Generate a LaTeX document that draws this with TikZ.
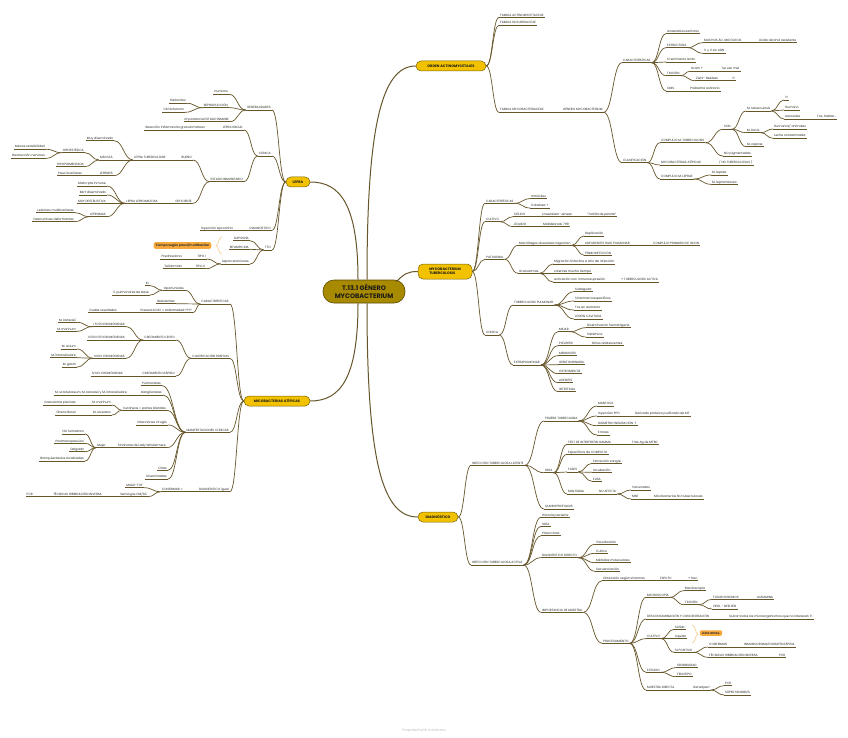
\documentclass[tikz,border=0pt]{standalone}
\usepackage{fontspec}
\setmainfont{Poppins}
\newfontfamily\dejavu{DejaVu Sans}
\usetikzlibrary{calc}
\definecolor{ln}{HTML}{66562A}
\definecolor{txt}{HTML}{262626}
\definecolor{pillf}{HTML}{F2C200}
\definecolor{pilld}{HTML}{7A6400}
\definecolor{mainf}{HTML}{A88A00}
\definecolor{maind}{HTML}{5A4A00}
\definecolor{orf}{HTML}{F7A83A}
\definecolor{orl}{HTML}{F9C98A}
\newcommand\NR[4]{\node[t,anchor=south west] (#1) at (#2,#3) {#4}; \draw[ul] (#1.south west) -- (#1.south east);}
\newcommand\NL[4]{\node[t,anchor=south east] (#1) at (#2,#3) {#4}; \draw[ul] (#1.south west) -- (#1.south east);}
\newcommand\CR[2]{\draw[con] let \p1=(#1.south east), \p2=(#2.south west), \n1={max(0.5*abs(\x2-\x1),1)} in (\p1) .. controls +(\n1,0) and +(-\n1,0) .. (\p2);}
\newcommand\CL[2]{\draw[con] let \p1=(#1.south west), \p2=(#2.south east), \n1={max(0.5*abs(\x2-\x1),1)} in (\p1) .. controls +(-\n1,0) and +(\n1,0) .. (\p2);}
\newcommand\PR[2]{\draw[con] let \p1=(#1.east), \p2=(#2.south west), \n1={max(0.5*abs(\x2-\x1),1)} in (\p1) .. controls +(\n1,0) and +(-\n1,0) .. (\p2);}
\newcommand\PL[2]{\draw[con] let \p1=(#1.west), \p2=(#2.south east), \n1={max(0.5*abs(\x2-\x1),1)} in (\p1) .. controls +(-\n1,0) and +(\n1,0) .. (\p2);}
\newcommand\CRs[2]{\foreach \cc in {#2}{\CR{#1}{\cc}}}
\newcommand\CLs[2]{\foreach \cc in {#2}{\CL{#1}{\cc}}}
\newcommand\PRs[2]{\foreach \cc in {#2}{\PR{#1}{\cc}}}
\newcommand\PLs[2]{\foreach \cc in {#2}{\PL{#1}{\cc}}}
\begin{document}
\begin{tikzpicture}[x=1pt,y=-1pt,
  t/.style={font=\fontsize{3.1}{3.6}\selectfont, text=txt, inner xsep=1pt, inner ysep=0.5pt, text height=2.3pt, text depth=0.6pt},
  ul/.style={draw=ln, line width=0.55pt},
  con/.style={draw=ln, line width=0.7pt},
  mcon/.style={draw=ln, line width=1pt},
  l1/.style={draw=pilld, fill=pillf, line width=0.5pt, rounded corners=5pt, font=\fontsize{3.5}{4.2}\selectfont\bfseries, text=black!90, inner sep=0pt, minimum height=10pt, align=left},
  mainn/.style={draw=maind, fill=mainf, line width=0.6pt, rounded corners=11pt, font=\fontsize{6.5}{7.7}\selectfont\bfseries, text=black!90, inner sep=0pt, minimum width=82pt, minimum height=23pt, align=center},
  note/.style={fill=orf, rounded corners=2pt, font=\fontsize{3.1}{3.6}\selectfont\bfseries, text=black!80, inner xsep=2pt, inner ysep=1.5pt},
  brk/.style={draw=orl, line width=0.6pt}
]
\useasboundingbox (0,0) rectangle (848,738);
\fill[white] (0,0) rectangle (848,738);

% ---------- central and main nodes
\node[mainn] (ctr) at (364,291.5) {T.13.1 GÉNERO\\MYCOBACTERIUM};
\node[l1, minimum width=24pt] (lep) at (298,182) {LEPRA};
\node[l1, minimum width=70pt] (ord) at (451,66) {ORDEN ACTINOMYCETALES};
\node[l1, minimum width=54pt, minimum height=15pt] (mtbp) at (445,271.5) {MYCOBACTERIUM\\TUBERCULOSIS};
\node[l1, minimum width=66pt] (mico) at (277,401) {MICOBACTERIAS ATÍPICAS};
\node[l1, minimum width=40pt] (dia) at (438,517) {DIAGNÓSTICO};

\draw[mcon] ($(ctr.north)+(-6,0)$) .. controls +(0,-75) and +(30,0) .. (lep.east);
\draw[mcon] ($(ctr.north)+(3,0)$) .. controls +(0,-150) and +(-35,0) .. (ord.west);
\draw[mcon] ($(ctr.north east)+(-9,2)$) .. controls +(8,-8) and +(-10,0) .. (mtbp.west);
\draw[mcon] ($(ctr.south)+(-6,0)$) .. controls +(0,75) and +(30,0) .. (mico.east);
\draw[mcon] ($(ctr.south)+(3,0)$) .. controls +(0,160) and +(-35,0) .. (dia.west);

% ---------- ORDEN ACTINOMYCETALES
\NR{fa}{499}{17.5}{FAMILIA ACTINOMYCETACEAE}
\NR{fn}{499}{25.3}{FAMILIA NOCARDIACEAE}
\NR{fm}{499}{112.3}{FAMILIA MYCOBACTERIACEAE}
\NR{gm}{562}{112.3}{GÉNERO MYCOBACTERIUM}
\NR{car}{622}{62.7}{CARACTERÍSTICAS}
\NR{ana}{666}{33.7}{Anaerobios estrictos}
\NR{est}{666}{47.7}{ESTRUCTURA}
\NR{muc}{703}{42.7}{MUCHOS ÁC. MICÓLICOS}
\NR{aar}{758}{42.7}{Ácido alcohol resistente}
\NR{cyc}{703}{53.3}{C y C en ADN}
\NR{crl}{666}{62}{Crecimiento lento}
\NR{tin}{666}{75.7}{TINCIÓN}
\NR{gra}{690}{71.3}{Gram +}
\NR{sev}{721}{71.3}{Se ven mal}
\NR{zn}{695}{80.7}{Ziehl- Neelsen}
\NR{exc}{731}{80.7}{!!!}
\NR{oms}{666}{91}{OMS}
\NR{pro}{689}{91}{Problema sanitario}
\NR{cla}{622}{162.7}{CLASIFICACIÓN}
\NR{cmt}{660}{142.7}{COMPLEJO M. TUBERCULOSIS}
\NR{son}{723}{129.3}{SON}
\NR{mtb}{746}{111}{M. tuberculosis}
\NR{e3}{784}{100}{!!!}
\NR{hum}{784}{110}{Humano}
\NR{aer}{784}{119}{Aerosoles}
\NR{tos}{816}{119}{Tos, hablar...}
\NR{mbo}{746}{132.7}{M. bovis}
\NR{ha}{773}{129}{Humanos/ animales}
\NR{lc}{773}{138.3}{Leche contaminada}
\NR{mca}{746}{146.7}{M. caprae}
\NR{nop}{723}{156}{NO pigmentadas}
\NR{mat}{660}{165}{MYCOBACTERIAS ATÍPICAS}
\NR{ntb}{718}{165}{/ NO TUBERCULOSAS /}
\NR{cml}{660}{179}{COMPLEJO M. LEPRAE}
\NR{mle}{711}{175}{M. leprae}
\NR{mlm}{711}{184.3}{M. lepromatosis}

\PRs{ord}{fa,fn,fm}
\CRs{fm}{gm}
\CRs{gm}{car,cla}
\CRs{car}{ana,est,crl,tin,oms}
\CRs{est}{muc,cyc}
\CRs{muc}{aar}
\CRs{tin}{gra,zn}
\CRs{gra}{sev}
\CRs{zn}{exc}
\CRs{oms}{pro}
\CRs{cla}{cmt,mat,cml}
\CRs{cmt}{son,nop}
\CRs{son}{mtb,mbo,mca}
\CRs{mtb}{e3,hum,aer}
\CRs{aer}{tos}
\CRs{mbo}{ha,lc}
\CRs{mat}{ntb}
\CRs{cml}{mle,mlm}

% ---------- MYCOBACTERIUM TUBERCULOSIS
\NR{c2}{485}{203.3}{CARACTERÍSTICAS}
\NR{inm}{530}{198.7}{Inmóviles}
\NR{cat}{530}{208}{Catalasa +}
\NR{cul}{485}{221.7}{CULTIVO}
\NR{sol}{513}{216.7}{SÓLIDO}
\NR{lj}{541}{216.7}{Lowenstein-Jensen}
\NR{tor}{586}{216.7}{"Tortilla de patata"}
\NR{liq}{513}{226.7}{LÍQUIDO}
\NR{mid}{542}{226.7}{Middlebrook 7H9}
\NR{pat}{485}{259.3}{PATOGENIA}
\NR{mac}{518}{245.3}{Macrófagos alveolares fagocitan}
\NR{rep}{584}{236}{Replicación}
\NR{lin}{584}{245.3}{LINFADENITIS HILIO PULMONAR}
\NR{ghon}{652}{245.3}{COMPLEJO PRIMARIO DE GHON}
\NR{pri}{584}{255.3}{PRIMOINFECCIÓN}
\NR{gran}{518}{273.3}{Granulomas}
\NR{mig}{553}{264}{Migración linfocitos a sitio de infección}
\NR{lat}{553}{273.3}{Latentes mucho tiempo}
\NR{act}{553}{282}{Activación con inmunosupresión}
\NR{tba}{620}{282}{+ TUBERCULOSIS ACTIVA}
\NR{cli}{485}{335}{CLÍNICA}
\NR{tbp}{513}{305}{TUBERCULOSIS PULMONAR}
\NR{sub}{574}{291.7}{Subaguda}
\NR{sin}{574}{301}{Síntomas inespecíficos}
\NR{tau}{574}{310}{Tos en aumento}
\NR{les}{574}{319}{LESIÓN CAVITADA}
\NR{ext}{513}{365}{EXTRAPULMONAR}
\NR{mil}{558}{331.7}{MILIAR}
\NR{dis}{586}{327.7}{Diseminación hematógena}
\NR{sis}{586}{337}{Sistémica}
\NR{ple}{558}{345.7}{PLEURITIS}
\NR{nin}{591}{345.7}{Niños adolescentes}
\NR{men}{558}{355.7}{MENINGITIS}
\NR{gen}{558}{364.7}{GENITOURINARIA}
\NR{ost}{558}{373.7}{OSTEOMIELITIS}
\NR{ade}{558}{382.7}{ADENITIS}
\NR{int}{558}{391.7}{INTESTINAL}

\PRs{mtbp}{c2,cul,pat,cli}
\CRs{c2}{inm,cat}
\CRs{cul}{sol,liq}
\CRs{sol}{lj}
\CRs{lj}{tor}
\CRs{liq}{mid}
\CRs{pat}{mac,gran}
\CRs{mac}{rep,lin,pri}
\CRs{lin}{ghon}
\CRs{gran}{mig,lat,act}
\CRs{act}{tba}
\CRs{cli}{tbp,ext}
\CRs{tbp}{sub,sin,tau,les}
\CRs{ext}{mil,ple,men,gen,ost,ade,int}
\CRs{mil}{dis,sis}
\CRs{ple}{nin}

% ---------- DIAGNOSTICO
\NR{itl}{471}{465.3}{INFECCIÓN TUBERCULOSA LATENTE}
\NR{ptu}{544}{421}{PRUEBA TUBERCULINA}
\NR{man}{597}{406}{MANTOUX}
\NR{ppd}{597}{416}{Inyección PPD}
\NR{der}{634}{416}{Derivado proteico purificado de MT}
\NR{dia2}{597}{425.7}{DIÁMETRO INDURACIÓN {\dejavu ↑}}
\NR{err}{597}{435}{Errores}
\NR{igra}{544}{472.7}{IGRA}
\NR{tig}{567}{444.3}{TEST DE INTERFERÓN GAMMA}
\NR{tras}{631}{444.3}{Tras Ag de MTBC}
\NR{esp}{567}{454.3}{Específicos de COMPLEJO}
\NR{fas}{567}{472}{FASES}
\NR{extr}{592}{463.3}{Extracción sangre}
\NR{inc}{592}{472.3}{Incubación}
\NR{eli}{592}{481.3}{ELISA}
\NR{mfi}{567}{494}{Más fiable}
\NR{noa}{598}{494}{NO AFECTA}
\NR{vac}{631}{490}{Vacunados}
\NR{mnt}{631}{499}{MNT}
\NR{mnt2}{653}{499}{Micobacterias NO tuberculosas}
\NR{qui}{544}{509}{QUIMIOPROFILAXIS}
\NR{ita}{471}{565}{INFECCIÓN TUBERCULOSA ACTIVA}
\NR{his}{541}{517.3}{Historia paciente}
\NR{igr2}{541}{526.3}{IGRA}
\NR{pla}{541}{535.7}{Placa tórax}
\NR{ddi}{541}{557.7}{DIAGNÓSTICO DIRECTO}
\NR{vis}{595}{544.3}{Visualización}
\NR{cu2}{595}{553.3}{Cultivo}
\NR{mmo}{595}{562.7}{Métodos moleculares}
\NR{sec}{595}{571.3}{Secuenciación}
\NR{imp}{541}{612.3}{IMPORTANCIA DE MUESTRA}
\NR{obt}{602}{580.7}{Obtención según síntomas}
\NR{esu}{659}{580.7}{ESPUTO}
\NR{frec}{687}{580.7}{+ frec}
\NR{proc}{602}{643.3}{PROCESAMIENTO}
\NR{mic}{646}{597.3}{MICROSCOPÍA}
\NR{bac}{684}{590.7}{Baciloscopia}
\NR{ti2}{684}{604.7}{TINCIÓN}
\NR{flu}{712}{599.3}{FLUOROCROMOS}
\NR{aur}{756}{599.3}{AURAMINA}
\NR{zie}{712}{609}{ZIEHL - NEELSEN}
\NR{des}{646}{619}{DESCONTAMINACIÓN Y CONCENTRACIÓN}
\NR{qui2}{728}{619}{Quitar todos los microorganismos que no interesan !!!}
\NR{cu3}{646}{638.7}{CULTIVO}
\NR{sol2}{674}{629.3}{Sólido}
\NR{liq2}{674}{638.7}{Líquido}
\NR{sip}{674}{652.3}{SI POSITIVO}
\NR{conf}{708}{647}{CONFIRMAR}
\NR{inmu}{743}{647}{INMUNOCROMATOGRAFÍA RÁPIDA}
\NR{thi}{708}{657.3}{TÉCNICAS HIBRIDACIÓN INVERSA}
\NR{pcr1}{778}{657.3}{PCR}
\NR{estu}{646}{672.3}{ESTUDIO}
\NR{sen}{676}{667.7}{SENSIBILIDAD}
\NR{fen}{676}{676.7}{FENOTIPO}
\NR{mdi}{646}{690}{MUESTRA DIRECTA}
\NR{gx}{692}{690}{GeneXpert}
\NR{pcr2}{724}{685.7}{PCR}
\NR{sup}{724}{695}{SÚPER SENSIBLES}

\PRs{dia}{itl,ita}
\CRs{itl}{ptu,igra,qui}
\CRs{ptu}{man,ppd,dia2,err}
\CRs{ppd}{der}
\CRs{igra}{tig,esp,fas,mfi}
\CRs{tig}{tras}
\CRs{fas}{extr,inc,eli}
\CRs{mfi}{noa}
\CRs{noa}{vac,mnt}
\CRs{mnt}{mnt2}
\CRs{ita}{his,igr2,pla,ddi,imp}
\CRs{ddi}{vis,cu2,mmo,sec}
\CRs{imp}{obt,proc}
\CRs{obt}{esu}
\CRs{esu}{frec}
\CRs{proc}{mic,des,cu3,estu,mdi}
\CRs{mic}{bac,ti2}
\CRs{ti2}{flu,zie}
\CRs{flu}{aur}
\CRs{des}{qui2}
\CRs{cu3}{sol2,liq2,sip}
\CRs{sip}{conf,thi}
\CRs{conf}{inmu}
\CRs{thi}{pcr1}
\CRs{estu}{sen,fen}
\CRs{mdi}{gx}
\CRs{gx}{pcr2,sup}

\draw[brk] (692,625) .. controls (696,625) and (695,634) .. (698,634) .. controls (695,634) and (696,643) .. (692,643);
\node[note] (vis2) at (711,633) {visto antes.};

% ---------- LEPRA
\NL{gnr}{272}{110}{GENERALIDADES}
\NL{hu}{229}{94.3}{Humano}
\NL{rpr}{229}{107.7}{REPRODUCCIÓN}
\NL{his2}{187}{103.3}{Histiocitos}
\NL{sch}{185}{112.3}{Cél Schwann}
\NL{imi}{230}{121.7}{Importancia ESTADO INMUNE}
\NL{cln}{272}{156}{CLÍNICA}
\NL{lin2}{244}{130}{LEPRA INICIAL}
\NL{rig}{206}{130}{Reacción inflamatoria granulomatosa}
\NL{ein}{244}{181.7}{ESTADO INMUNITARIO}
\NL{bue}{193}{160}{BUENO}
\NL{ltu}{167}{160}{LEPRA TUBERCULOIDE}
\NL{mdis}{114}{140.7}{Muy diseminada}
\NL{mac2}{114}{160}{MÁCULA}
\NL{hip}{85}{152.7}{HIPOESTÉSICA}
\NL{msen}{46}{149.3}{Menos sensibilidad}
\NL{dner}{46}{158.3}{Destrucción nerviosa}
\NL{hpg}{85}{166.7}{HIPOPIGMENTADA}
\NL{lpr}{114}{175.7}{LEPRIDES}
\NL{pau}{83}{175.7}{Pauci bacilares}
\NL{def}{193}{203.3}{DEFICIENTE}
\NL{llp}{159}{203.3}{LEPRA LEPROMATOSA}
\NL{mri}{107}{186}{Mala rpta inmune}
\NL{mud}{107}{195}{MUY diseminada}
\NL{mde}{107}{203.3}{MUY DESTRUCTIVA}
\NL{lpm}{107}{216.7}{LEPROMAS}
\NL{lmb}{75}{212.7}{Lesiones multibacilares}
\NL{ddf}{75}{221.7}{Destructivas deformantes}
\NL{dgn}{272}{230.3}{DIAGNÓSTICO}
\NL{ile}{234}{230.3}{Inyección lepromina}
\NL{tto}{272}{250}{TTO}
\NL{dap}{250}{240.7}{DAPSONA}
\NL{rif}{250}{249.3}{RIFAMPICINA}
\NL{lrr}{250}{264}{Leprorreacciones}
\NL{t1}{207}{259}{TIPO I}
\NL{pre}{183}{259}{Prednisolona}
\NL{t2}{206}{268.7}{TIPO II}
\NL{tal}{183}{268.7}{Talidomida}

\PLs{lep}{gnr,cln,dgn,tto}
\CLs{gnr}{hu,rpr,imi}
\CLs{rpr}{his2,sch}
\CLs{cln}{lin2,ein}
\CLs{lin2}{rig}
\CLs{ein}{bue,def}
\CLs{bue}{ltu}
\CLs{ltu}{mdis,mac2,lpr}
\CLs{mac2}{hip,hpg}
\CLs{hip}{msen,dner}
\CLs{lpr}{pau}
\CLs{def}{llp}
\CLs{llp}{mri,mud,mde,lpm}
\CLs{lpm}{lmb,ddf}
\CLs{dgn}{ile}
\CLs{tto}{dap,rif,lrr}
\CLs{lrr}{t1,t2}
\CLs{t1}{pre}
\CLs{t2}{tal}

\draw[brk] (222,237) .. controls (218,237) and (219,245.5) .. (216,245.5) .. controls (219,245.5) and (218,254) .. (222,254);
\node[note] (tsp) at (182.5,245.5) {Tiempo según pauci/multibacilar};

% ---------- MICOBACTERIAS ATIPICAS
\NL{ca3}{230}{304}{CARACTERÍSTICAS}
\NL{opo}{185}{290.3}{Oportunistas}
\NL{id}{150}{285.7}{ID}
\NL{epb}{150}{295}{E. pulmonares de base}
\NL{res}{176}{303.7}{Resistentes}
\NL{pnoe}{193}{312.7}{Presencia NO = enfermedad ????}
\NL{dud}{118}{312.7}{Dudas resultados}
\NL{clr}{230}{358.3}{CLASIFICACIÓN RUNYON}
\NL{crle}{176}{340}{CRECIMIENTO LENTO}
\NL{ifo}{126}{326.7}{I FOTOCROMÓGENAS}
\NL{mka}{77}{322.3}{M. kansasii}
\NL{mma}{77}{331.3}{M. marinum}
\NL{iie}{126}{340}{II ESCOTOCROMÓGENAS}
\NL{iii}{126}{358.3}{III NO CROMÓGENAS}
\NL{mav}{77}{349}{M. avium}
\NL{min}{77}{357.7}{M. intracellulare}
\NL{mga}{77}{367}{M. gastri}
\NL{crr}{176}{376}{CRECIMIENTO RÁPIDO}
\NL{ivn}{124}{376}{IV NO CROMÓGENAS}
\NL{mcl}{230}{432.3}{MANIFESTACIONES CLÍNICAS}
\NL{pul}{162}{385.7}{Pulmonares}
\NL{gan}{163}{395}{Ganglionares}
\NL{msc}{128}{395}{M. scrofulaceum, M. kansasii y M. intracellulare}
\NL{cut}{167}{410.3}{Cutáneas = partes blandas}
\NL{mmr}{112}{405}{M. marinum}
\NL{gpi}{77}{405}{Granuloma piscinas}
\NL{mul}{112}{415}{M. ulcerans}
\NL{ubu}{77}{415}{Úlcera Buruli}
\NL{ici}{168}{425}{Infecciones cirugía}
\NL{slw}{167}{447.7}{Síndrome de Lady Windermere}
\NL{muj}{107}{447.7}{Mujer}
\NL{nof}{85}{434}{NO fumadora}
\NL{pos}{85}{443.3}{Postmenopausica}
\NL{del}{85}{451.7}{Delgada}
\NL{bro}{85}{461}{Bronquiectasias localizadas}
\NL{otr}{168}{470.3}{Otras}
\NL{dis2}{168}{479}{Diseminadas}
\NL{dgi}{230}{491.7}{DIAGNÓSTICO igual}
\NL{cfm}{184}{491.7}{CONFIRMAR =}
\NL{mal}{144}{487.7}{MALDI-TOF}
\NL{gcm}{148}{496.7}{Genotype CM/AS}
\NL{thi2}{103}{496.7}{TÉCNICAS HIBRIDACIÓN INVERSA}
\NL{pcr3}{34}{496.7}{PCR}

\PLs{mico}{ca3,clr,mcl,dgi}
\CLs{ca3}{opo,res,pnoe}
\CLs{opo}{id,epb}
\CLs{pnoe}{dud}
\CLs{clr}{crle,crr}
\CLs{crle}{ifo,iie,iii}
\CLs{ifo}{mka,mma}
\CLs{iii}{mav,min,mga}
\CLs{crr}{ivn}
\CLs{mcl}{pul,gan,cut,ici,slw,otr,dis2}
\CLs{gan}{msc}
\CLs{cut}{mmr,mul}
\CLs{mmr}{gpi}
\CLs{mul}{ubu}
\CLs{slw}{muj}
\CLs{muj}{nof,pos,del,bro}
\CLs{dgi}{cfm}
\CLs{cfm}{mal,gcm}
\CLs{gcm}{thi2}
\CLs{thi2}{pcr3}

\node[font=\fontsize{3.6}{4}\selectfont, text=black!25] (wm) at (424,731) {Prepared with mindomo};
\end{tikzpicture}
\end{document}
